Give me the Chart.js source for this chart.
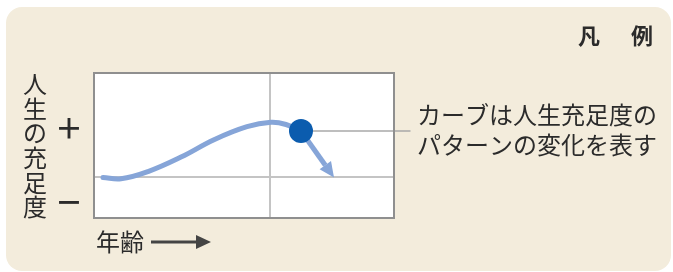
<!DOCTYPE html>
<html>
<head>
<meta charset="utf-8">
<script src="https://cdn.jsdelivr.net/npm/chart.js@4/dist/chart.umd.min.js"></script>
<style>
html, body { margin: 0; padding: 0; background: #fff; }
#wrap { position: relative; width: 673px; height: 272px; }
#bg { position: absolute; left: 6px; top: 7px; width: 665px; height: 264px; border-radius: 16px; background: #f3ecdc; }
canvas { position: absolute; left: 0; top: 0; }
</style>
</head>
<body>
<div id="wrap">
    <div id="bg"></div>
    <canvas id="lifeChart" width="673" height="272"></canvas>
</div>
<script>
// curve of life satisfaction over age (0-100 on both axes)
const curveX = [3, 9, 18, 29, 40, 51, 59, 64, 69];
const curveY = [28, 27, 32, 42, 54, 63, 66, 64.5, 60];
const nowX = [69];
const nowY = [60];
const trendX = [69, 80];
const trendY = [60, 28];
const leaderX = [69, 105.5];
const leaderY = [60, 60];
const xGridValues = [58.7];
const yTickValues = [11, 28.3, 62];
const yTickLabels = ["－", "", "＋"];
const yGridValue = 28.3;
const yAxisTitle = "人生の充足度";
const xAxisTitle = "年齢";
const legendTitle = ["凡", "例"];
const legendLines = ["カーブは人生充足度の", "パターンの変化を表す"];

const textColor = "#2b2b2b";
const curveColor = "#86a5d8";
const cjk = '"Noto Sans CJK JP", sans-serif';

function toPoints(xs, ys) {
    return xs.map((x, i) => ({ x: x, y: ys[i] }));
}

const decor = {
    id: "decor",
    beforeDraw(chart) {
        const { ctx, chartArea: a } = chart;
        ctx.save();
        ctx.fillStyle = "#ffffff";
        ctx.fillRect(a.left, a.top, a.right - a.left, a.bottom - a.top);
        ctx.restore();
    },
    beforeDatasetsDraw(chart) {
        // trend arrow after the current point
        const { ctx, scales } = chart;
        const x0 = scales.x.getPixelForValue(trendX[0]);
        const y0 = scales.y.getPixelForValue(trendY[0]);
        const x1 = scales.x.getPixelForValue(trendX[1]);
        const y1 = scales.y.getPixelForValue(trendY[1]);
        const ang = Math.atan2(y1 - y0, x1 - x0);
        const headLen = 15, headW = 7;
        const bx = x1 - headLen * Math.cos(ang);
        const by = y1 - headLen * Math.sin(ang);
        ctx.save();
        ctx.strokeStyle = curveColor;
        ctx.fillStyle = curveColor;
        ctx.lineWidth = 5;
        ctx.beginPath();
        ctx.moveTo(x0, y0);
        ctx.lineTo(bx, by);
        ctx.stroke();
        ctx.beginPath();
        ctx.moveTo(x1, y1);
        ctx.lineTo(bx + headW * Math.sin(ang), by - headW * Math.cos(ang));
        ctx.lineTo(bx - headW * Math.sin(ang), by + headW * Math.cos(ang));
        ctx.closePath();
        ctx.fill();
        ctx.restore();
    },
    afterDraw(chart) {
        const { ctx, chartArea: a } = chart;
        ctx.save();
        ctx.strokeStyle = "#8f8f8f";
        ctx.lineWidth = 2;
        ctx.strokeRect(a.left, a.top, a.right - a.left, a.bottom - a.top);

        ctx.fillStyle = textColor;
        ctx.textBaseline = "middle";
        ctx.font = "24px " + cjk;

        // vertical y title
        ctx.textAlign = "center";
        Array.from(yAxisTitle).forEach((ch, i) => {
            ctx.fillText(ch, 35, 84 + i * 24.6);
        });

        // x title with arrow
        ctx.textAlign = "left";
        ctx.fillText(xAxisTitle, 96, 242);
        ctx.strokeStyle = "#444444";
        ctx.fillStyle = "#444444";
        ctx.lineWidth = 3;
        ctx.beginPath();
        ctx.moveTo(151, 242);
        ctx.lineTo(198, 242);
        ctx.stroke();
        ctx.beginPath();
        ctx.moveTo(211, 242);
        ctx.lineTo(196, 235);
        ctx.lineTo(196, 249);
        ctx.closePath();
        ctx.fill();

        // legend
        ctx.fillStyle = textColor;
        ctx.font = "24px " + cjk;
        ctx.fillText(legendLines[0], 417, 115);
        ctx.fillText(legendLines[1], 417, 145);
        ctx.font = "bold 22px " + cjk;
        ctx.textAlign = "center";
        ctx.fillText(legendTitle[0], 589, 36);
        ctx.fillText(legendTitle[1], 642, 36);
        ctx.restore();
    },
};

const lifeCtx = document.getElementById("lifeChart").getContext("2d");
new Chart(lifeCtx, {
    type: "scatter",
    data: {
        datasets: [
            {
                data: toPoints(nowX, nowY),
                backgroundColor: "#0b5cae",
                borderWidth: 0,
                pointRadius: 12,
                order: 0,
            },
            {
                data: toPoints(curveX, curveY),
                showLine: true,
                borderColor: curveColor,
                borderWidth: 5,
                borderCapStyle: "round",
                tension: 0.4,
                pointRadius: 0,
                order: 1,
            },
            {
                data: toPoints(leaderX, leaderY),
                showLine: true,
                borderColor: "#a9a9a9",
                borderWidth: 1.5,
                pointRadius: 0,
                clip: false,
                order: 2,
            },
        ],
    },
    options: {
        responsive: false,
        devicePixelRatio: 1,
        animation: false,
        events: [],
        layout: { padding: { top: 73, right: 279, bottom: 0, left: 0 } },
        plugins: { legend: { display: false }, tooltip: { enabled: false } },
        scales: {
            x: {
                type: "linear",
                min: 0,
                max: 100,
                border: { display: false },
                grid: { color: "#c4c4c4", lineWidth: 2, drawTicks: false },
                ticks: { display: false },
                afterBuildTicks: (s) => { s.ticks = xGridValues.map((v) => ({ value: v })); },
                afterFit: (s) => { s.height = 54; },
            },
            y: {
                type: "linear",
                min: 0,
                max: 100,
                border: { display: false },
                grid: {
                    color: (c) => (c.tick && c.tick.value === yGridValue ? "#c4c4c4" : "rgba(0,0,0,0)"),
                    lineWidth: 2,
                    drawTicks: false,
                },
                ticks: {
                    padding: 11,
                    color: textColor,
                    font: { family: "Noto Sans CJK JP", size: 28, weight: "bold" },
                    callback: (v, i) => yTickLabels[i],
                },
                afterBuildTicks: (s) => { s.ticks = yTickValues.map((v) => ({ value: v })); },
                afterFit: (s) => { s.width = 94; },
            },
        },
    },
    plugins: [decor],
});
</script>
</body>
</html>
